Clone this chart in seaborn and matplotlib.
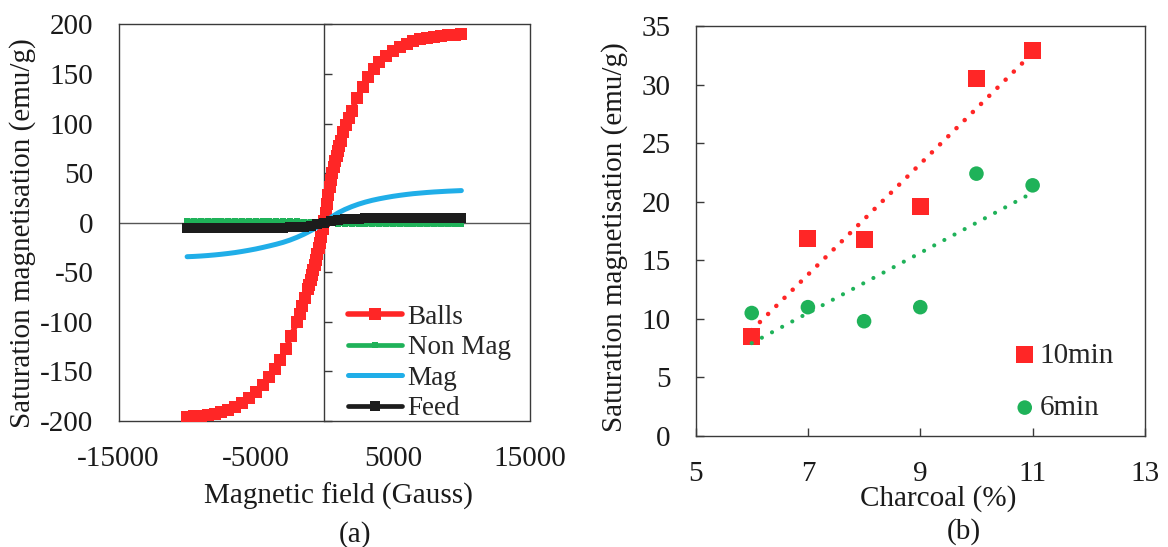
import matplotlib
matplotlib.use("Agg")
import matplotlib.pyplot as plt
from matplotlib.lines import Line2D
import seaborn as sns

# ---------------- data: (a) magnetisation curves ----------------
field_balls = [-10000, -9500, -9000, -8500, -8000, -7500, -7000, -6500, -6000,
               -5500, -5000, -4500, -4000, -3600, -3200, -2800, -2400, -2000,
               -1800, -1600, -1400, -1200, -1100, -1000, -900, -800, -700,
               -600, -500, -400, -300, -200, -100, 0, 100, 200, 300, 400, 500,
               600, 700, 800, 900, 1000, 1100, 1200, 1400, 1600, 1800, 2000,
               2400, 2800, 3200, 3600, 4000, 4500, 5000, 5500, 6000, 6500,
               7000, 7500, 8000, 8500, 9000, 9500, 10000]
m_balls = [-195.5, -195, -194.5, -193.5, -192.5, -191, -189, -186, -182,
           -177, -171, -164, -156, -148, -138, -127, -114, -100,
           -92, -84, -76, -67, -62.5, -58, -53, -48, -43,
           -38, -32, -26, -20, -14, -6, 2, 10, 19, 28, 36, 43,
           50, 56, 62, 67, 72, 77, 82, 91, 99, 106, 113,
           126, 137, 147, 155, 162, 168.5, 173.5, 177.5, 180.5, 183,
           185, 186.5, 187.5, 188.5, 189, 189.5, 190]

field = [-10000, -9500, -9000, -8500, -8000, -7500, -7000, -6500, -6000,
         -5500, -5000, -4500, -4000, -3500, -3000, -2500, -2000, -1500,
         -1000, -500, 0, 500, 1000, 1500, 2000, 2500, 3000, 3500, 4000,
         4500, 5000, 5500, 6000, 6500, 7000, 7500, 8000, 8500, 9000, 9500,
         10000]
m_non_mag = [1.9, 1.9, 1.9, 1.9, 1.9, 1.8, 1.8, 1.8, 1.8,
             1.7, 1.7, 1.7, 1.6, 1.6, 1.5, 1.4, 1.3, 1.1,
             0.8, 0.4, 0.0, -0.4, -0.8, -1.0, -1.2, -1.3, -1.4, -1.4, -1.5,
             -1.5, -1.6, -1.6, -1.6, -1.7, -1.7, -1.7, -1.7, -1.8, -1.8, -1.8,
             -1.8]
m_mag = [-34.3, -34.0, -33.6, -33.1, -32.5, -31.8, -31.0, -30.1, -29.0,
         -27.8, -26.5, -25.0, -23.4, -21.7, -19.8, -17.5, -14.8, -11.7,
         -8.2, -4.3, 0.4, 5.4, 9.8, 13.3, 16.2, 18.7, 20.8, 22.6, 24.1,
         25.4, 26.6, 27.6, 28.5, 29.3, 29.9, 30.5, 31.0, 31.4, 31.8, 32.1,
         32.4]
m_feed = [-5.6, -5.6, -5.6, -5.6, -5.5, -5.5, -5.5, -5.5, -5.4,
          -5.4, -5.3, -5.3, -5.2, -5.1, -5.0, -4.8, -4.5, -4.0,
          -3.1, -1.8, -0.2, 1.5, 2.8, 3.5, 3.9, 4.1, 4.3, 4.4, 4.5,
          4.5, 4.6, 4.6, 4.6, 4.6, 4.6, 4.6, 4.6, 4.6, 4.6, 4.6,
          4.6]

x_ticks_a = [-15000, -5000, 5000, 15000]
x_labels_a = ["-15000", "-5000", "5000", "15000"]
y_ticks_a = [-200, -150, -100, -50, 0, 50, 100, 150, 200]
y_labels_a = ["-200", "-150", "-100", "-50", "0", "50", "100", "150", "200"]

# ---------------- data: (b) saturation vs charcoal ----------------
charcoal = [6, 7, 8, 9, 10, 11]
sat_10min = [8.5, 16.9, 16.8, 19.6, 30.5, 32.9]
sat_6min = [10.5, 11.0, 9.8, 11.0, 22.4, 21.4]
x_ticks_b = [5, 7, 9, 11, 13]
y_ticks_b = [0, 5, 10, 15, 20, 25, 30, 35]

# ---------------- style ----------------
sns.set_theme(style="white")
plt.rcParams["font.family"] = ["Liberation Serif", "DejaVu Serif"]
plt.rcParams["axes.unicode_minus"] = False

RED = "#FF2626"
GREEN = "#1FB259"
BLUE = "#20AEE8"
BLACK = "#1C1C1C"
FRAME = "#3A3A3A"
TXT = "#1A1A1A"
FS = 21

fig = plt.figure(figsize=(11.68, 5.47), dpi=100)
fig.patch.set_facecolor("white")

# ================= panel (a) =================
ax = fig.add_axes([0.1015, 0.2303, 0.3522, 0.7251])
ax.patch.set_visible(False)
ax.axhline(0, color="#555555", lw=1.0, zorder=1)

sns.lineplot(x=field_balls, y=m_balls, ax=ax, color=RED, lw=4.0, marker="s",
             markersize=8.5, markeredgewidth=0, sort=False, estimator=None,
             label="Balls", zorder=3)
sns.lineplot(x=field, y=m_non_mag, ax=ax, color=GREEN, lw=3.4, marker="s",
             markersize=5, markeredgewidth=0, sort=False, estimator=None,
             label="Non Mag", zorder=4)
sns.lineplot(x=field, y=m_mag, ax=ax, color=BLUE, lw=3.6, sort=False,
             estimator=None, label="Mag", zorder=5, solid_capstyle="round")
sns.lineplot(x=field, y=m_feed, ax=ax, color=BLACK, lw=3.4, marker="s",
             markersize=7, markeredgewidth=0, sort=False, estimator=None,
             label="Feed", zorder=6)

ax.set_xlim(-15000, 15000)
ax.set_ylim(-200, 200)
ax.set_xticks(x_ticks_a, x_labels_a)
ax.set_yticks(y_ticks_a, y_labels_a)

# vertical axis crosses at zero field, ticks drawn on it
ax.spines["right"].set_position(("data", 0))
for side in ["left", "right", "top", "bottom"]:
    ax.spines[side].set_color(FRAME)
    ax.spines[side].set_linewidth(1.0)
ax.add_line(Line2D([1, 1], [0, 1], transform=ax.transAxes, color=FRAME,
                   lw=1.0, clip_on=False))
ax.tick_params(axis="y", left=False, right=True, labelleft=True,
               labelright=False, direction="out", length=6, width=1.0,
               color=FRAME, pad=12, labelsize=FS, labelcolor=TXT)
ax.tick_params(axis="x", bottom=False, top=False, length=0, pad=18,
               labelsize=FS, labelcolor=TXT)

ax.set_xlabel("Magnetic field (Gauss)", fontsize=FS, color=TXT)
ax.set_ylabel("Saturation magnetisation (emu/g)", fontsize=FS, color=TXT)
ax.xaxis.label.set_va("center")
ax.yaxis.label.set_va("center")
ax.xaxis.set_label_coords(0.5357, -0.1890)
ax.yaxis.set_label_coords(-0.2324, 0.4748)

handles, labels = ax.get_legend_handles_labels()
ax.legend(handles, labels, loc="lower left", bbox_to_anchor=(0.5576, 0.0),
          frameon=False, fontsize=19.5, handlelength=2.0, handletextpad=0.2,
          labelspacing=0.2, borderpad=0, borderaxespad=0)

# ================= panel (b) =================
bx = fig.add_axes([0.5955, 0.2029, 0.3848, 0.7495])
bx.patch.set_visible(False)

sns.scatterplot(x=charcoal, y=sat_10min, ax=bx, marker="s", s=150,
                color=RED, edgecolor="none", linewidth=0, label="10min",
                zorder=3)
sns.scatterplot(x=charcoal, y=sat_6min, ax=bx, marker="o", s=110,
                color=GREEN, edgecolor="none", linewidth=0, label="6min",
                zorder=3)
sns.regplot(x=charcoal, y=sat_10min, ax=bx, scatter=False, ci=None,
            color=RED, line_kws=dict(lw=3.3, ls=(0, (0.01, 2.5)),
                                     dash_capstyle="round", zorder=4))
sns.regplot(x=charcoal, y=sat_6min, ax=bx, scatter=False, ci=None,
            color=GREEN, line_kws=dict(lw=3.0, ls=(0, (0.01, 2.75)),
                                       dash_capstyle="round", zorder=4))

bx.set_xlim(5, 13)
bx.set_ylim(0, 35)
bx.set_xticks(x_ticks_b, [str(v) for v in x_ticks_b])
bx.set_yticks(y_ticks_b, [str(v) for v in y_ticks_b])
for side in ["left", "right", "top", "bottom"]:
    bx.spines[side].set_visible(True)
    bx.spines[side].set_color(FRAME)
    bx.spines[side].set_linewidth(1.0)
bx.tick_params(axis="both", direction="in", length=6, width=1.0, color=FRAME,
               labelsize=FS, labelcolor=TXT, left=True, bottom=True)
bx.tick_params(axis="y", pad=18)
bx.tick_params(axis="x", pad=18)

bx.set_xlabel("Charcoal (%)", fontsize=FS, color=TXT)
bx.set_ylabel("Saturation magnetisation (emu/g)", fontsize=FS, color=TXT)
bx.xaxis.label.set_va("center")
bx.yaxis.label.set_va("center")
bx.xaxis.set_label_coords(0.5395, -0.1520)
bx.yaxis.set_label_coords(-0.1813, 0.485)

h2, l2 = bx.get_legend_handles_labels()
bx.legend(h2[:2], l2[:2], loc="lower left", bbox_to_anchor=(0.713, 0.036),
          frameon=False, fontsize=FS, handlelength=0.6, handletextpad=0.2,
          labelspacing=0.9, borderpad=0, borderaxespad=0)

# panel captions
fig.text(0.304, 0.0219, "(a)", ha="center", va="center", fontsize=FS, color=TXT)
fig.text(0.8253, 0.0274, "(b)", ha="center", va="center", fontsize=FS, color=TXT)

fig.savefig("out.png", dpi=100)
